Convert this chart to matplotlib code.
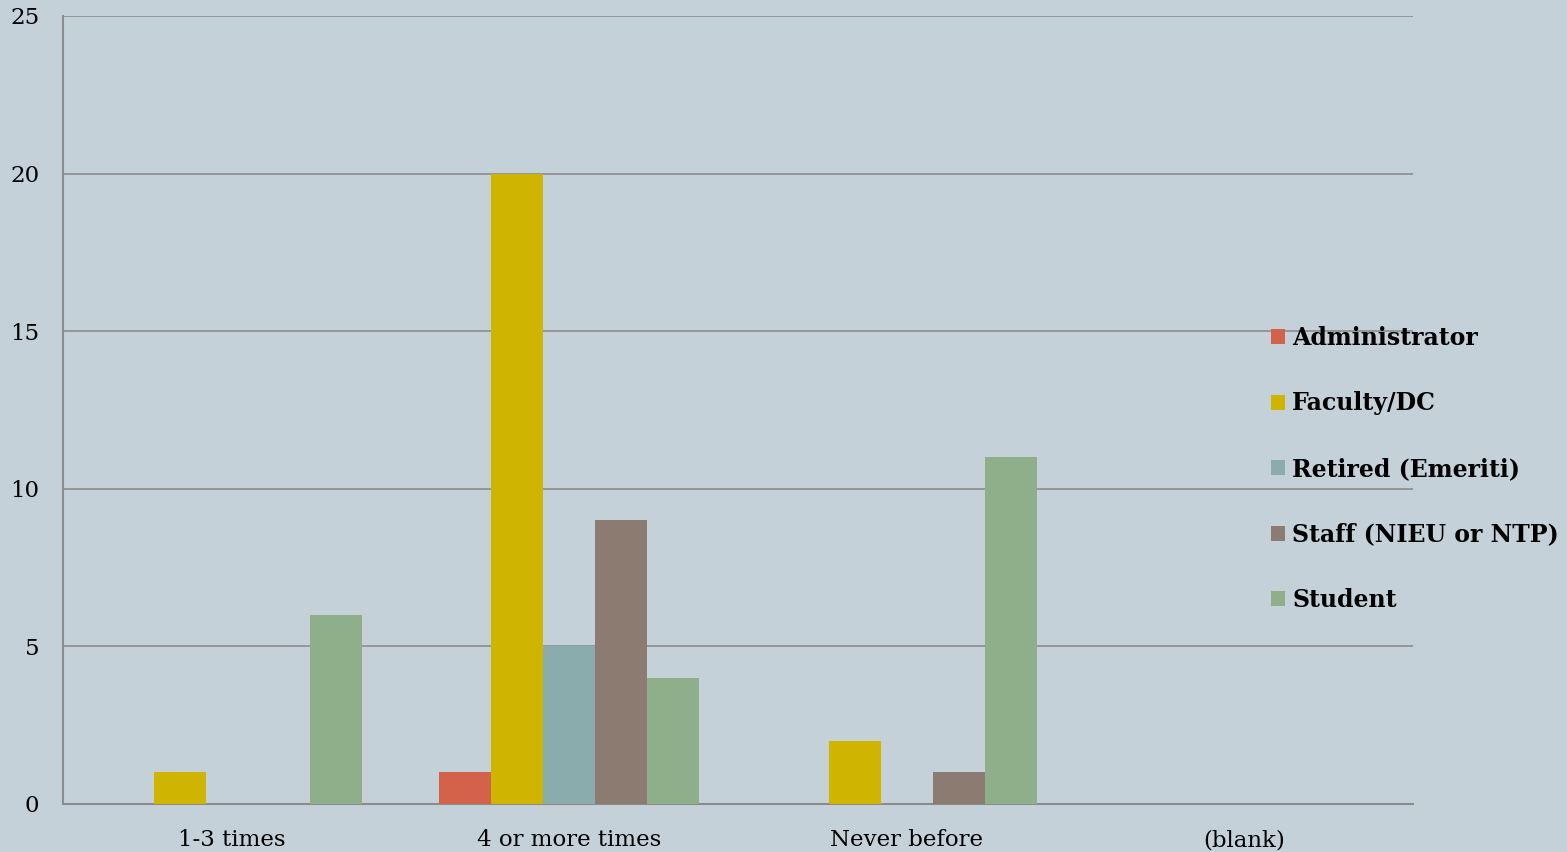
import numpy as np
import matplotlib
matplotlib.use("Agg")
import matplotlib.pyplot as plt

categories = ["1-3 times", "4 or more times", "Never before", "(blank)"]
series_names = ["Administrator", "Faculty/DC", "Retired (Emeriti)",
                "Staff (NIEU or NTP)", "Student"]
administrator = [0, 1, 0, 0]
faculty = [1, 20, 2, 0]
retired = [0, 5, 0, 0]
staff = [0, 9, 1, 0]
student = [6, 4, 11, 0]
colors = ["#d2634a", "#cfb400", "#8aacad", "#8b7b70", "#8fae8a"]
y_ticks = [0, 5, 10, 15, 20, 25]

bg = "#c5d1d8"
plt.rcParams["font.family"] = ["DejaVu Serif"]

fig = plt.figure(figsize=(15.67, 8.52), dpi=100, facecolor=bg)
ax = fig.add_axes([63 / 1567, 1 - 804 / 852, 1350 / 1567, 788 / 852])
ax.set_facecolor(bg)

x = np.arange(len(categories))
w = 0.154
all_series = [administrator, faculty, retired, staff, student]
handles = []
for i, (name, vals) in enumerate(zip(series_names, all_series)):
    b = ax.bar(x + (i - 2) * w, vals, width=w, color=colors[i], label=name, zorder=3)
    handles.append(b)

ax.set_xlim(-0.5, len(categories) - 0.5)
ax.set_ylim(0, 25)
ax.set_yticks(y_ticks)
ax.set_xticks(x)
ax.set_xticklabels(categories, fontsize=16.5)
ax.tick_params(axis="y", length=0, pad=17, labelsize=16.5)
ax.tick_params(axis="x", length=0, pad=18)
ax.grid(axis="y", color="#8c8c8c", linewidth=1.2, zorder=1)
for s in ["top", "right"]:
    ax.spines[s].set_visible(False)
for s in ["left", "bottom"]:
    ax.spines[s].set_color("#8c8c8c")
    ax.spines[s].set_linewidth(1.5)

leg = fig.legend(handles=handles, labels=series_names, loc="upper left",
                 bbox_to_anchor=(1259 / 1567, 1 - 314 / 852), frameon=False,
                 prop={"weight": "bold", "size": 17}, handlelength=0.6,
                 handleheight=0.6, handletextpad=0.3, labelspacing=1.76,
                 borderpad=0)

fig.savefig("out.png", dpi=100, facecolor=bg)
